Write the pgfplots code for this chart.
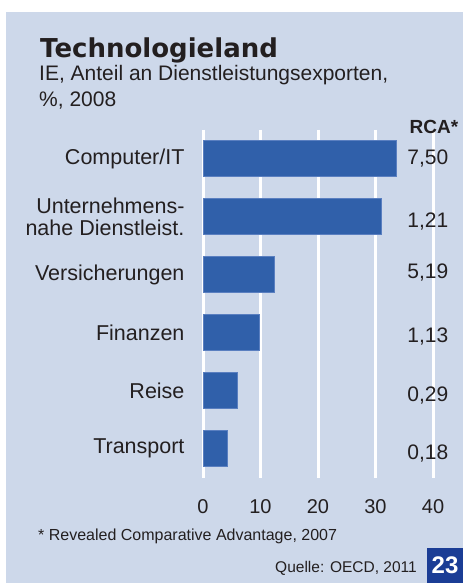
\documentclass[border=0pt]{standalone}
\usepackage{fontspec}
\setmainfont{Liberation Sans}
\newfontfamily\titlefont{DejaVu Sans}
\usepackage{pgfplots}
\pgfplotsset{compat=1.18}
\definecolor{bg}{HTML}{CDD8EA}
\definecolor{barfill}{HTML}{3060AA}
\definecolor{barline}{HTML}{5A7FC0}
\definecolor{navy}{HTML}{1B3D95}
\definecolor{txt}{HTML}{231F20}
\begin{document}
\begin{tikzpicture}
\path[use as bounding box] (0pt,0pt) rectangle (463pt,583pt);
\fill[white] (0pt,0pt) rectangle (463pt,583pt);
\fill[bg] (6pt,0pt) rectangle (463pt,571pt);
\node[anchor=base west, inner sep=0pt, font=\titlefont\fontsize{26}{30}\selectfont\bfseries, text=txt] at (40pt,525pt) {Technologieland};
\node[anchor=base west, inner sep=0pt, font=\fontsize{21}{25}\selectfont, text=txt] at (39pt,502pt) {IE, Anteil an Dienstleistungsexporten,};
\node[anchor=base west, inner sep=0pt, font=\fontsize{21}{25}\selectfont, text=txt] at (39pt,476.3pt) {\%, 2008};
\begin{axis}[
  at={(203pt,105.3pt)}, anchor=south west,
  scale only axis, width=230pt, height=348pt,
  xmin=0, xmax=40, ymin=-0.5, ymax=5.5, y dir=reverse,
  xbar, bar width=36pt,
  axis line style={draw=none}, major tick length=0pt,
  xtick={0,10,20,30,40}, xmajorgrids, grid style={white, line width=3pt},
  ytick={0,1,2,3,4,5},
  yticklabels={Computer/IT, {Unternehmens-\\nahe Dienstleist.}, Versicherungen, Finanzen, Reise, Transport},
  yticklabel style={align=right, font=\fontsize{21.5}{22}\selectfont, text=txt, xshift=-15pt},
  xticklabel style={font=\fontsize{20}{24}\selectfont, text=txt, yshift=-18pt},
  /pgf/number format/assume math mode=true,
  clip=false,
]
\addplot[fill=barfill, draw=barline, line width=0.8pt] coordinates {(33.6,0) (31.0,1) (12.4,2) (9.8,3) (6.0,4) (4.2,5)};
\node[font=\fontsize{21}{24}\selectfont, text=txt] at (axis cs:39.1,0.0) {7,50};
\node[font=\fontsize{21}{24}\selectfont, text=txt] at (axis cs:39.1,1.08) {1,21};
\node[font=\fontsize{21}{24}\selectfont, text=txt] at (axis cs:39.1,1.97) {5,19};
\node[font=\fontsize{21}{24}\selectfont, text=txt] at (axis cs:39.1,3.07) {1,13};
\node[font=\fontsize{21}{24}\selectfont, text=txt] at (axis cs:39.1,4.09) {0,29};
\node[font=\fontsize{21}{24}\selectfont, text=txt] at (axis cs:39.1,5.09) {0,18};
\end{axis}
\node[font=\fontsize{19}{22}\selectfont\bfseries, text=txt] at (434pt,456pt) {RCA*};
\node[anchor=base west, inner sep=0pt, font=\fontsize{16}{19}\selectfont, text=txt] at (38pt,42.5pt) {* Revealed Comparative Advantage, 2007};
\node[anchor=base east, inner sep=0pt, font=\fontsize{15.5}{18}\selectfont, text=txt] at (417pt,10pt) {Quelle: OECD, 2011};
\fill[navy] (427pt,0pt) rectangle (463pt,35pt);
\node[font=\fontsize{24}{26}\selectfont\bfseries, text=white] at (445pt,17.5pt) {23};
\end{tikzpicture}
\end{document}
